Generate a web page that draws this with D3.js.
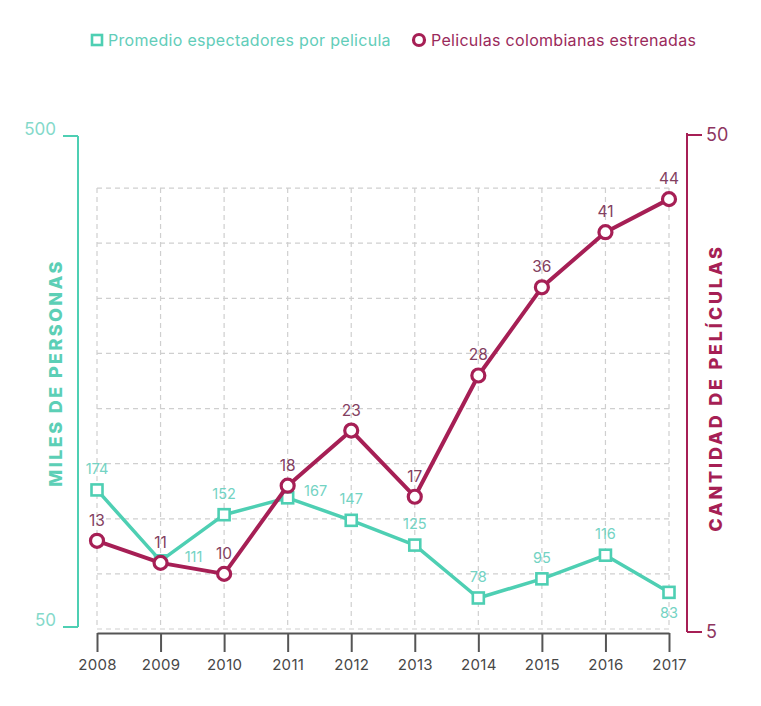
<!DOCTYPE html>
<html>
<head>
<meta charset="utf-8">
<script src="https://cdn.jsdelivr.net/npm/d3@7"></script>
<style>
  html, body { margin: 0; padding: 0; background: #ffffff; }
  svg { display: block; font-family: "Inter", "Roboto", "Liberation Sans", sans-serif; }
</style>
</head>
<body>
<svg id="chart" width="761" height="706"></svg>
<script>
// Años del eje horizontal
const years = ["2008", "2009", "2010", "2011", "2012", "2013", "2014", "2015", "2016", "2017"];
// Promedio de espectadores por película (miles de personas)
const espectadores = [174, 111, 152, 167, 147, 125, 78, 95, 116, 83];
// Películas colombianas estrenadas
const peliculas = [13, 11, 10, 18, 23, 17, 28, 36, 41, 44];
// Marcas de los ejes verticales
const leftTicks = [50, 500];
const rightTicks = [5, 50];
const gridValues = [5, 10, 15, 20, 25, 30, 35, 40, 45];
const seriesNames = ["Promedio espectadores por pelicula", "Peliculas colombianas estrenadas"];

const TEAL = "#4ecfb3";
const TEAL_TEXT = "#62cdb9";
const TEAL_LABEL = "#73d3c3";
const CRIMSON = "#a61f55";
const CRIMSON_TEXT = "#9a2a5b";
const CRIMSON_LABEL = "#83405f";

const svg = d3.select("#chart");

const x = d3.scalePoint().domain(years).range([97, 669]);
const yLeft = d3.scaleLinear().domain([50, 500]).range([629.5, 123]);
const yRight = d3.scaleLinear().domain([5, 50]).range([629, 133]);
// Escala del corchete izquierdo
const yLeftAxis = d3.scaleLinear().domain([50, 500]).range([627, 136]);

// Cuadrícula punteada
const grid = svg.append("g").attr("stroke", "#cfcfcf").attr("stroke-width", 1.2)
  .attr("stroke-dasharray", "5,4").attr("fill", "none");
grid.selectAll("line.h").data(gridValues).join("line").attr("class", "h")
  .attr("x1", x(years[0])).attr("x2", x(years[years.length - 1]))
  .attr("y1", d => yRight(d)).attr("y2", d => yRight(d));
grid.selectAll("line.v").data(years).join("line").attr("class", "v")
  .attr("x1", d => x(d)).attr("x2", d => x(d))
  .attr("y1", yRight(45)).attr("y2", yRight(5));

// Eje X
const xAxis = svg.append("g").attr("transform", "translate(0,633)")
  .call(d3.axisBottom(x).tickSize(19).tickPadding(5).tickSizeOuter(0));
xAxis.select(".domain").attr("stroke", "#555").attr("stroke-width", 2);
xAxis.selectAll(".tick line").attr("stroke", "#555").attr("stroke-width", 2);
xAxis.selectAll(".tick text").attr("fill", "#474747").attr("font-size", 15)
  .attr("letter-spacing", 0.3)
  .attr("font-family", "Inter, Roboto, sans-serif").attr("dy", "0.85em");

// Eje izquierdo (corchete)
const leftAxisG = svg.append("g").attr("transform", "translate(78,0)");
leftAxisG.append("line").attr("x1", 0).attr("x2", 0)
  .attr("y1", yLeftAxis(500)).attr("y2", yLeftAxis(50))
  .attr("stroke", TEAL).attr("stroke-width", 2);
leftAxisG.selectAll("line.t").data(leftTicks).join("line").attr("class", "t")
  .attr("x1", -15).attr("x2", 0).attr("y1", d => yLeftAxis(d)).attr("y2", d => yLeftAxis(d))
  .attr("stroke", TEAL).attr("stroke-width", 2);
leftAxisG.selectAll("text").data(leftTicks).join("text")
  .attr("x", -22).attr("y", d => yLeftAxis(d)).attr("dy", "-0.05em")
  .attr("text-anchor", "end").attr("fill", "#84d9ca").attr("font-size", 17)
  .text(d => d);

// Eje derecho (corchete)
const rightAxisG = svg.append("g").attr("transform", "translate(687,0)");
rightAxisG.append("line").attr("x1", 0).attr("x2", 0)
  .attr("y1", yRight(50)).attr("y2", yRight(5) + 3)
  .attr("stroke", CRIMSON).attr("stroke-width", 2);
rightAxisG.selectAll("line.t").data(rightTicks).join("line").attr("class", "t")
  .attr("x1", 0).attr("x2", 15).attr("y1", d => d === 5 ? yRight(d) + 3 : yRight(d) + 2)
  .attr("y2", d => d === 5 ? yRight(d) + 3 : yRight(d) + 2)
  .attr("stroke", CRIMSON).attr("stroke-width", 2);
rightAxisG.selectAll("text").data(rightTicks).join("text")
  .attr("x", 19).attr("y", d => d === 5 ? yRight(d) + 3 : yRight(d) + 2).attr("dy", "0.35em")
  .attr("fill", "#8e3560").attr("font-size", 18)
  .text(d => d);

// Títulos de ejes
svg.append("text").attr("transform", "translate(62,373) rotate(-90)")
  .attr("text-anchor", "middle").attr("fill", "#5ccfb6").attr("font-size", 18)
  .attr("font-weight", 800).attr("letter-spacing", 2.4).text("MILES DE PERSONAS");
svg.append("text").attr("transform", "translate(722,388) rotate(-90)")
  .attr("text-anchor", "middle").attr("fill", CRIMSON).attr("font-size", 18)
  .attr("font-weight", 800).attr("letter-spacing", 2.8).text("CANTIDAD DE PELÍCULAS");

// Serie: promedio de espectadores
const lineLeft = d3.line().x((d, i) => x(years[i])).y(d => yLeft(d));
svg.append("path").datum(espectadores).attr("d", lineLeft)
  .attr("fill", "none").attr("stroke", TEAL).attr("stroke-width", 3.5)
  .attr("stroke-linejoin", "round");
svg.selectAll("rect.m").data(espectadores).join("rect").attr("class", "m")
  .attr("x", (d, i) => x(years[i]) - 5.5).attr("y", d => yLeft(d) - 5.5)
  .attr("width", 11).attr("height", 11)
  .attr("fill", "#ffffff").attr("stroke", TEAL).attr("stroke-width", 2.6);

// Serie: películas estrenadas
const lineRight = d3.line().x((d, i) => x(years[i])).y(d => yRight(d));
svg.append("path").datum(peliculas).attr("d", lineRight)
  .attr("fill", "none").attr("stroke", CRIMSON).attr("stroke-width", 4)
  .attr("stroke-linejoin", "round");
svg.selectAll("circle.m").data(peliculas).join("circle").attr("class", "m")
  .attr("cx", (d, i) => x(years[i])).attr("cy", d => yRight(d)).attr("r", 6.5)
  .attr("fill", "#ffffff").attr("stroke", CRIMSON).attr("stroke-width", 3.2);

// Etiquetas de valores: espectadores
const leftLabelOffset = { "2009": [33, 1], "2011": [28, -2], "2017": [0, 26] };
svg.selectAll("text.lv").data(espectadores).join("text").attr("class", "lv")
  .attr("x", (d, i) => x(years[i]) + (leftLabelOffset[years[i]] ? leftLabelOffset[years[i]][0] : 0))
  .attr("y", (d, i) => yLeft(d) + (leftLabelOffset[years[i]] ? leftLabelOffset[years[i]][1] : -16))
  .attr("text-anchor", "middle").attr("fill", TEAL_LABEL).attr("font-size", 14.5)
  .text(d => d);

// Etiquetas de valores: películas
svg.selectAll("text.rv").data(peliculas).join("text").attr("class", "rv")
  .attr("x", (d, i) => x(years[i]))
  .attr("y", d => yRight(d) - 15)
  .attr("text-anchor", "middle").attr("fill", CRIMSON_LABEL).attr("font-size", 15.5)
  .text(d => d);

// Leyenda
const legend = svg.append("g");
legend.append("rect").attr("x", 92).attr("y", 35).attr("width", 10).attr("height", 10)
  .attr("fill", "#ffffff").attr("stroke", TEAL).attr("stroke-width", 2.6);
legend.append("text").attr("x", 108).attr("y", 46).attr("fill", TEAL_TEXT)
  .attr("font-size", 16).attr("letter-spacing", 0.3).text(seriesNames[0]);
legend.append("circle").attr("cx", 419).attr("cy", 40).attr("r", 5.5)
  .attr("fill", "#ffffff").attr("stroke", CRIMSON).attr("stroke-width", 3.2);
legend.append("text").attr("x", 431).attr("y", 46).attr("fill", CRIMSON_TEXT)
  .attr("font-size", 16).attr("letter-spacing", 0.3).text(seriesNames[1]);
</script>
</body>
</html>
